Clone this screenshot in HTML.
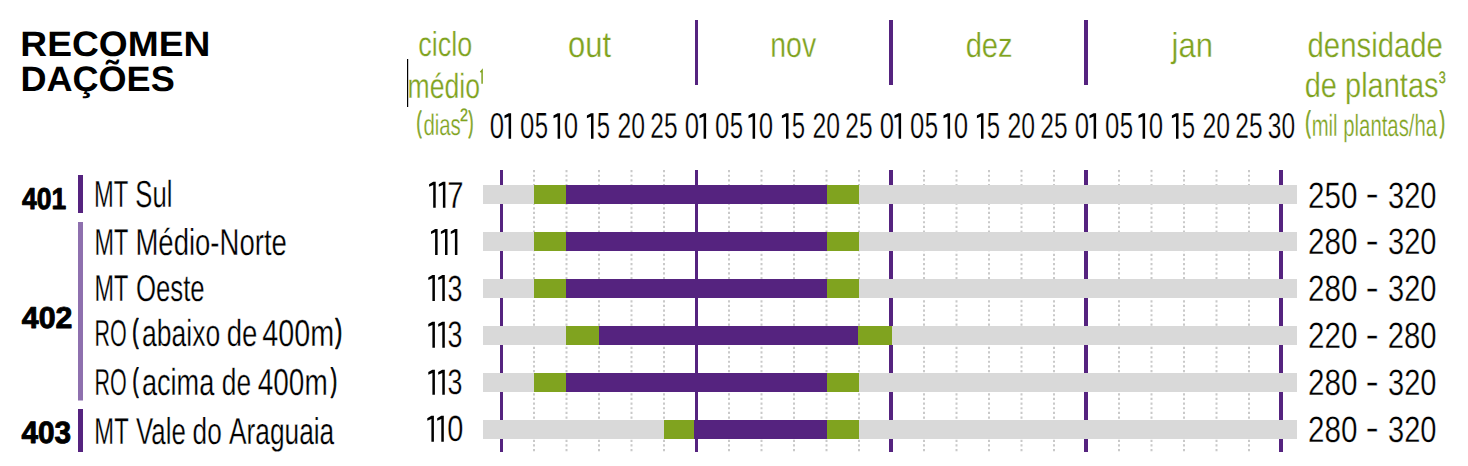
<!DOCTYPE html>
<html><head><meta charset="utf-8"><style>
html,body{margin:0;padding:0;background:#fff;}
svg{display:block;}
text{font-family:"Liberation Sans", sans-serif;text-rendering:geometricPrecision;}
</style></head><body>
<svg width="1468" height="466" viewBox="0 0 1468 466">
<rect x="695" y="20" width="3" height="65" fill="#55237f"/>
<rect x="889" y="20" width="4" height="65" fill="#55237f"/>
<rect x="1084" y="20" width="4" height="65" fill="#55237f"/>
<path d="M480.4 72.2 L482.1 70.2 L482.1 83.7" fill="none" stroke="#80a31f" stroke-width="1.5"/>
<rect x="407" y="59" width="1.2" height="48" fill="#000"/>
<line x1="534.00" y1="170" x2="534.00" y2="452" stroke="#c9c9c9" stroke-width="2" stroke-dasharray="2.2 2.45"/>
<line x1="566.50" y1="170" x2="566.50" y2="452" stroke="#c9c9c9" stroke-width="2" stroke-dasharray="2.2 2.45"/>
<line x1="599.00" y1="170" x2="599.00" y2="452" stroke="#c9c9c9" stroke-width="2" stroke-dasharray="2.2 2.45"/>
<line x1="631.50" y1="170" x2="631.50" y2="452" stroke="#c9c9c9" stroke-width="2" stroke-dasharray="2.2 2.45"/>
<line x1="664.00" y1="170" x2="664.00" y2="452" stroke="#c9c9c9" stroke-width="2" stroke-dasharray="2.2 2.45"/>
<line x1="729.00" y1="170" x2="729.00" y2="452" stroke="#c9c9c9" stroke-width="2" stroke-dasharray="2.2 2.45"/>
<line x1="761.50" y1="170" x2="761.50" y2="452" stroke="#c9c9c9" stroke-width="2" stroke-dasharray="2.2 2.45"/>
<line x1="794.00" y1="170" x2="794.00" y2="452" stroke="#c9c9c9" stroke-width="2" stroke-dasharray="2.2 2.45"/>
<line x1="826.50" y1="170" x2="826.50" y2="452" stroke="#c9c9c9" stroke-width="2" stroke-dasharray="2.2 2.45"/>
<line x1="859.00" y1="170" x2="859.00" y2="452" stroke="#c9c9c9" stroke-width="2" stroke-dasharray="2.2 2.45"/>
<line x1="924.00" y1="170" x2="924.00" y2="452" stroke="#c9c9c9" stroke-width="2" stroke-dasharray="2.2 2.45"/>
<line x1="956.50" y1="170" x2="956.50" y2="452" stroke="#c9c9c9" stroke-width="2" stroke-dasharray="2.2 2.45"/>
<line x1="989.00" y1="170" x2="989.00" y2="452" stroke="#c9c9c9" stroke-width="2" stroke-dasharray="2.2 2.45"/>
<line x1="1021.50" y1="170" x2="1021.50" y2="452" stroke="#c9c9c9" stroke-width="2" stroke-dasharray="2.2 2.45"/>
<line x1="1054.00" y1="170" x2="1054.00" y2="452" stroke="#c9c9c9" stroke-width="2" stroke-dasharray="2.2 2.45"/>
<line x1="1119.00" y1="170" x2="1119.00" y2="452" stroke="#c9c9c9" stroke-width="2" stroke-dasharray="2.2 2.45"/>
<line x1="1151.50" y1="170" x2="1151.50" y2="452" stroke="#c9c9c9" stroke-width="2" stroke-dasharray="2.2 2.45"/>
<line x1="1184.00" y1="170" x2="1184.00" y2="452" stroke="#c9c9c9" stroke-width="2" stroke-dasharray="2.2 2.45"/>
<line x1="1216.50" y1="170" x2="1216.50" y2="452" stroke="#c9c9c9" stroke-width="2" stroke-dasharray="2.2 2.45"/>
<line x1="1249.00" y1="170" x2="1249.00" y2="452" stroke="#c9c9c9" stroke-width="2" stroke-dasharray="2.2 2.45"/>
<rect x="500" y="170" width="3" height="282" fill="#55237f"/>
<rect x="695" y="170" width="3" height="282" fill="#55237f"/>
<rect x="889" y="170" width="4" height="282" fill="#55237f"/>
<rect x="1084" y="170" width="4" height="282" fill="#55237f"/>
<rect x="1279" y="170" width="4" height="282" fill="#55237f"/>
<rect x="483" y="185" width="814" height="19" fill="#d9d9d9"/>
<rect x="534" y="185" width="32" height="19" fill="#80a31f"/>
<rect x="566" y="185" width="261" height="19" fill="#55237f"/>
<rect x="827" y="185" width="32" height="19" fill="#80a31f"/>
<rect x="483" y="232" width="814" height="19" fill="#d9d9d9"/>
<rect x="534" y="232" width="32" height="19" fill="#80a31f"/>
<rect x="566" y="232" width="261" height="19" fill="#55237f"/>
<rect x="827" y="232" width="32" height="19" fill="#80a31f"/>
<rect x="483" y="279" width="814" height="19" fill="#d9d9d9"/>
<rect x="534" y="279" width="32" height="19" fill="#80a31f"/>
<rect x="566" y="279" width="261" height="19" fill="#55237f"/>
<rect x="827" y="279" width="32" height="19" fill="#80a31f"/>
<rect x="483" y="326" width="814" height="19" fill="#d9d9d9"/>
<rect x="566" y="326" width="33" height="19" fill="#80a31f"/>
<rect x="599" y="326" width="259" height="19" fill="#55237f"/>
<rect x="858" y="326" width="34" height="19" fill="#80a31f"/>
<rect x="483" y="373" width="814" height="19" fill="#d9d9d9"/>
<rect x="534" y="373" width="32" height="19" fill="#80a31f"/>
<rect x="566" y="373" width="261" height="19" fill="#55237f"/>
<rect x="827" y="373" width="32" height="19" fill="#80a31f"/>
<rect x="483" y="420" width="814" height="19" fill="#d9d9d9"/>
<rect x="664" y="420" width="30" height="19" fill="#80a31f"/>
<rect x="694" y="420" width="133" height="19" fill="#55237f"/>
<rect x="827" y="420" width="32" height="19" fill="#80a31f"/>
<rect x="78" y="175" width="5" height="38" fill="#55237f"/>
<rect x="78" y="222" width="5" height="178.5" fill="#8e70ae"/>
<rect x="78" y="409" width="5" height="43" fill="#55237f"/>
<text x="20.37" y="56.35" font-size="35.35" font-weight="700" fill="#000000" textLength="189.91" lengthAdjust="spacingAndGlyphs">RECOMEN</text>
<text x="20.44" y="91.15" font-size="35.35" font-weight="700" fill="#000000" textLength="154.25" lengthAdjust="spacingAndGlyphs">DAÇÕES</text>
<text x="418.32" y="56.45" font-size="34.59" font-weight="400" fill="#80a31f" stroke="#fff" stroke-width="0.3" textLength="53.98" lengthAdjust="spacingAndGlyphs">ciclo</text>
<text x="407.50" y="97.55" font-size="34.73" font-weight="400" fill="#80a31f" stroke="#fff" stroke-width="0.3" textLength="72.46" lengthAdjust="spacingAndGlyphs">médio</text>
<text x="416.39" y="131.88" font-size="29.43" font-weight="400" fill="#80a31f" stroke="#80a31f" stroke-width="0.88" stroke-linejoin="round" textLength="5.11" lengthAdjust="spacingAndGlyphs">(</text>
<text x="423.38" y="134.70" font-size="29.73" font-weight="400" fill="#80a31f" stroke="#fff" stroke-width="0.3" textLength="37.42" lengthAdjust="spacingAndGlyphs">dias</text>
<text x="459.93" y="121.32" font-size="18.06" font-weight="400" fill="#80a31f" stroke="#80a31f" stroke-width="0.36" stroke-linejoin="round" textLength="8.00" lengthAdjust="spacingAndGlyphs">2</text>
<text x="468.45" y="131.88" font-size="29.43" font-weight="400" fill="#80a31f" stroke="#80a31f" stroke-width="0.88" stroke-linejoin="round" textLength="4.89" lengthAdjust="spacingAndGlyphs">)</text>
<text x="567.96" y="56.73" font-size="36.52" font-weight="400" fill="#80a31f" stroke="#fff" stroke-width="0.3" textLength="43.04" lengthAdjust="spacingAndGlyphs">out</text>
<text x="770.29" y="56.54" font-size="35.64" font-weight="400" fill="#80a31f" stroke="#fff" stroke-width="0.3" textLength="45.87" lengthAdjust="spacingAndGlyphs">nov</text>
<text x="965.63" y="56.55" font-size="34.59" font-weight="400" fill="#80a31f" stroke="#fff" stroke-width="0.3" textLength="47.11" lengthAdjust="spacingAndGlyphs">dez</text>
<text x="1171.53" y="56.55" font-size="34.59" font-weight="400" fill="#80a31f" stroke="#fff" stroke-width="0.3" textLength="41.47" lengthAdjust="spacingAndGlyphs">jan</text>
<text x="1307.53" y="56.55" font-size="34.73" font-weight="400" fill="#80a31f" stroke="#fff" stroke-width="0.3" textLength="135.41" lengthAdjust="spacingAndGlyphs">densidade</text>
<text x="1304.74" y="97.35" font-size="34.86" font-weight="400" fill="#80a31f" stroke="#fff" stroke-width="0.3" textLength="133.77" lengthAdjust="spacingAndGlyphs">de plantas</text>
<text x="1438.82" y="82.87" font-size="16.44" font-weight="400" fill="#80a31f" stroke="#80a31f" stroke-width="0.33" stroke-linejoin="round" textLength="7.01" lengthAdjust="spacingAndGlyphs">3</text>
<text x="1305.15" y="131.97" font-size="29.69" font-weight="400" fill="#80a31f" stroke="#80a31f" stroke-width="0.89" stroke-linejoin="round" textLength="5.44" lengthAdjust="spacingAndGlyphs">(</text>
<text x="1311.68" y="135.60" font-size="30.55" font-weight="400" fill="#80a31f" stroke="#fff" stroke-width="0.3" textLength="125.42" lengthAdjust="spacingAndGlyphs">mil plantas/ha</text>
<text x="1439.86" y="131.97" font-size="29.69" font-weight="400" fill="#80a31f" stroke="#80a31f" stroke-width="0.89" stroke-linejoin="round" textLength="5.22" lengthAdjust="spacingAndGlyphs">)</text>
<text x="489.87" y="138.34" font-size="35.92" font-weight="400" fill="#000000" stroke="#fff" stroke-width="0.3" textLength="14.37" lengthAdjust="spacingAndGlyphs">0</text>
<text x="519.97" y="138.34" font-size="35.92" font-weight="400" fill="#000000" stroke="#fff" stroke-width="0.3" textLength="14.37" lengthAdjust="spacingAndGlyphs">0</text>
<text x="534.64" y="138.34" font-size="36.43" font-weight="400" fill="#000000" stroke="#fff" stroke-width="0.3" textLength="13.33" lengthAdjust="spacingAndGlyphs">5</text>
<text x="563.77" y="138.34" font-size="35.92" font-weight="400" fill="#000000" stroke="#fff" stroke-width="0.3" textLength="14.37" lengthAdjust="spacingAndGlyphs">0</text>
<text x="596.64" y="138.34" font-size="36.43" font-weight="400" fill="#000000" stroke="#fff" stroke-width="0.3" textLength="13.33" lengthAdjust="spacingAndGlyphs">5</text>
<text x="617.51" y="138.34" font-size="35.92" font-weight="400" fill="#000000" stroke="#fff" stroke-width="0.3" textLength="27.54" lengthAdjust="spacingAndGlyphs">20</text>
<text x="650.27" y="138.34" font-size="35.92" font-weight="400" fill="#000000" stroke="#fff" stroke-width="0.3" textLength="27.26" lengthAdjust="spacingAndGlyphs">25</text>
<text x="684.87" y="138.34" font-size="35.92" font-weight="400" fill="#000000" stroke="#fff" stroke-width="0.3" textLength="14.37" lengthAdjust="spacingAndGlyphs">0</text>
<text x="714.97" y="138.34" font-size="35.92" font-weight="400" fill="#000000" stroke="#fff" stroke-width="0.3" textLength="14.37" lengthAdjust="spacingAndGlyphs">0</text>
<text x="729.64" y="138.34" font-size="36.43" font-weight="400" fill="#000000" stroke="#fff" stroke-width="0.3" textLength="13.33" lengthAdjust="spacingAndGlyphs">5</text>
<text x="758.77" y="138.34" font-size="35.92" font-weight="400" fill="#000000" stroke="#fff" stroke-width="0.3" textLength="14.37" lengthAdjust="spacingAndGlyphs">0</text>
<text x="791.64" y="138.34" font-size="36.43" font-weight="400" fill="#000000" stroke="#fff" stroke-width="0.3" textLength="13.33" lengthAdjust="spacingAndGlyphs">5</text>
<text x="812.51" y="138.34" font-size="35.92" font-weight="400" fill="#000000" stroke="#fff" stroke-width="0.3" textLength="27.54" lengthAdjust="spacingAndGlyphs">20</text>
<text x="845.27" y="138.34" font-size="35.92" font-weight="400" fill="#000000" stroke="#fff" stroke-width="0.3" textLength="27.26" lengthAdjust="spacingAndGlyphs">25</text>
<text x="879.87" y="138.34" font-size="35.92" font-weight="400" fill="#000000" stroke="#fff" stroke-width="0.3" textLength="14.37" lengthAdjust="spacingAndGlyphs">0</text>
<text x="909.97" y="138.34" font-size="35.92" font-weight="400" fill="#000000" stroke="#fff" stroke-width="0.3" textLength="14.37" lengthAdjust="spacingAndGlyphs">0</text>
<text x="924.64" y="138.34" font-size="36.43" font-weight="400" fill="#000000" stroke="#fff" stroke-width="0.3" textLength="13.33" lengthAdjust="spacingAndGlyphs">5</text>
<text x="953.77" y="138.34" font-size="35.92" font-weight="400" fill="#000000" stroke="#fff" stroke-width="0.3" textLength="14.37" lengthAdjust="spacingAndGlyphs">0</text>
<text x="986.64" y="138.34" font-size="36.43" font-weight="400" fill="#000000" stroke="#fff" stroke-width="0.3" textLength="13.33" lengthAdjust="spacingAndGlyphs">5</text>
<text x="1007.51" y="138.34" font-size="35.92" font-weight="400" fill="#000000" stroke="#fff" stroke-width="0.3" textLength="27.54" lengthAdjust="spacingAndGlyphs">20</text>
<text x="1040.27" y="138.34" font-size="35.92" font-weight="400" fill="#000000" stroke="#fff" stroke-width="0.3" textLength="27.26" lengthAdjust="spacingAndGlyphs">25</text>
<text x="1074.87" y="138.34" font-size="35.92" font-weight="400" fill="#000000" stroke="#fff" stroke-width="0.3" textLength="14.37" lengthAdjust="spacingAndGlyphs">0</text>
<text x="1104.97" y="138.34" font-size="35.92" font-weight="400" fill="#000000" stroke="#fff" stroke-width="0.3" textLength="14.37" lengthAdjust="spacingAndGlyphs">0</text>
<text x="1119.64" y="138.34" font-size="36.43" font-weight="400" fill="#000000" stroke="#fff" stroke-width="0.3" textLength="13.33" lengthAdjust="spacingAndGlyphs">5</text>
<text x="1148.77" y="138.34" font-size="35.92" font-weight="400" fill="#000000" stroke="#fff" stroke-width="0.3" textLength="14.37" lengthAdjust="spacingAndGlyphs">0</text>
<text x="1181.64" y="138.34" font-size="36.43" font-weight="400" fill="#000000" stroke="#fff" stroke-width="0.3" textLength="13.33" lengthAdjust="spacingAndGlyphs">5</text>
<text x="1202.51" y="138.34" font-size="35.92" font-weight="400" fill="#000000" stroke="#fff" stroke-width="0.3" textLength="27.54" lengthAdjust="spacingAndGlyphs">20</text>
<text x="1235.27" y="138.34" font-size="35.92" font-weight="400" fill="#000000" stroke="#fff" stroke-width="0.3" textLength="27.26" lengthAdjust="spacingAndGlyphs">25</text>
<text x="1267.77" y="138.34" font-size="35.92" font-weight="400" fill="#000000" stroke="#fff" stroke-width="0.3" textLength="27.27" lengthAdjust="spacingAndGlyphs">30</text>
<text x="94.10" y="206.80" font-size="37.68" font-weight="400" fill="#000000" stroke="#fff" stroke-width="0.3" textLength="34.27" lengthAdjust="spacingAndGlyphs">MT</text>
<text x="135.37" y="206.80" font-size="37.68" font-weight="400" fill="#000000" stroke="#fff" stroke-width="0.3" textLength="37.10" lengthAdjust="spacingAndGlyphs">Sul</text>
<text x="94.53" y="254.80" font-size="37.39" font-weight="400" fill="#000000" stroke="#fff" stroke-width="0.3" textLength="33.83" lengthAdjust="spacingAndGlyphs">MT</text>
<text x="135.40" y="254.80" font-size="37.39" font-weight="400" fill="#000000" stroke="#fff" stroke-width="0.3" textLength="151.46" lengthAdjust="spacingAndGlyphs">Médio-Norte</text>
<text x="94.53" y="300.80" font-size="37.39" font-weight="400" fill="#000000" stroke="#fff" stroke-width="0.3" textLength="33.83" lengthAdjust="spacingAndGlyphs">MT</text>
<text x="135.97" y="300.80" font-size="37.39" font-weight="400" fill="#000000" stroke="#fff" stroke-width="0.3" textLength="68.71" lengthAdjust="spacingAndGlyphs">Oeste</text>
<text x="94.48" y="345.90" font-size="37.54" font-weight="400" fill="#000000" stroke="#fff" stroke-width="0.3" textLength="32.28" lengthAdjust="spacingAndGlyphs">RO</text>
<text x="142.04" y="345.90" font-size="37.54" font-weight="400" fill="#000000" stroke="#fff" stroke-width="0.3" textLength="78.24" lengthAdjust="spacingAndGlyphs">abaixo</text>
<text x="226.70" y="345.90" font-size="37.54" font-weight="400" fill="#000000" stroke="#fff" stroke-width="0.3" textLength="30.67" lengthAdjust="spacingAndGlyphs">de</text>
<text x="262.22" y="345.90" font-size="37.54" font-weight="400" fill="#000000" stroke="#fff" stroke-width="0.3" textLength="71.95" lengthAdjust="spacingAndGlyphs">400m</text>
<text x="132.24" y="342.34" font-size="32.89" font-weight="400" fill="#000000" stroke="#000000" stroke-width="0.99" stroke-linejoin="round" textLength="6.33" lengthAdjust="spacingAndGlyphs">(</text>
<text x="335.21" y="342.34" font-size="32.89" font-weight="400" fill="#000000" stroke="#000000" stroke-width="0.99" stroke-linejoin="round" textLength="6.88" lengthAdjust="spacingAndGlyphs">)</text>
<text x="94.48" y="394.80" font-size="37.54" font-weight="400" fill="#000000" stroke="#fff" stroke-width="0.3" textLength="32.28" lengthAdjust="spacingAndGlyphs">RO</text>
<text x="141.91" y="394.80" font-size="37.54" font-weight="400" fill="#000000" stroke="#fff" stroke-width="0.3" textLength="72.42" lengthAdjust="spacingAndGlyphs">acima</text>
<text x="221.75" y="394.80" font-size="37.54" font-weight="400" fill="#000000" stroke="#fff" stroke-width="0.3" textLength="29.27" lengthAdjust="spacingAndGlyphs">de</text>
<text x="257.74" y="394.80" font-size="37.54" font-weight="400" fill="#000000" stroke="#fff" stroke-width="0.3" textLength="69.98" lengthAdjust="spacingAndGlyphs">400m</text>
<text x="132.47" y="391.05" font-size="32.37" font-weight="400" fill="#000000" stroke="#000000" stroke-width="0.97" stroke-linejoin="round" textLength="6.11" lengthAdjust="spacingAndGlyphs">(</text>
<text x="330.69" y="391.05" font-size="32.37" font-weight="400" fill="#000000" stroke="#000000" stroke-width="0.97" stroke-linejoin="round" textLength="6.33" lengthAdjust="spacingAndGlyphs">)</text>
<text x="94.30" y="443.80" font-size="37.39" font-weight="400" fill="#000000" stroke="#fff" stroke-width="0.3" textLength="34.37" lengthAdjust="spacingAndGlyphs">MT</text>
<text x="136.00" y="443.80" font-size="37.39" font-weight="400" fill="#000000" stroke="#fff" stroke-width="0.3" textLength="49.76" lengthAdjust="spacingAndGlyphs">Vale</text>
<text x="192.55" y="443.80" font-size="37.39" font-weight="400" fill="#000000" stroke="#fff" stroke-width="0.3" textLength="29.16" lengthAdjust="spacingAndGlyphs">do</text>
<text x="229.00" y="443.80" font-size="37.39" font-weight="400" fill="#000000" stroke="#fff" stroke-width="0.3" textLength="105.22" lengthAdjust="spacingAndGlyphs">Araguaia</text>
<text x="22.00" y="208.70" font-size="30.13" font-weight="700" fill="#000000" stroke="#000000" stroke-width="0.90" stroke-linejoin="round" textLength="44.23" lengthAdjust="spacingAndGlyphs">401</text>
<text x="21.80" y="327.79" font-size="30.27" font-weight="700" fill="#000000" stroke="#000000" stroke-width="0.91" stroke-linejoin="round" textLength="50.56" lengthAdjust="spacingAndGlyphs">402</text>
<text x="21.40" y="443.27" font-size="30.93" font-weight="700" fill="#000000" stroke="#000000" stroke-width="0.93" stroke-linejoin="round" textLength="49.65" lengthAdjust="spacingAndGlyphs">403</text>
<text x="447.23" y="207.70" font-size="37.54" font-weight="400" fill="#000000" stroke="#fff" stroke-width="0.3" textLength="16.32" lengthAdjust="spacingAndGlyphs">7</text>
<text x="447.62" y="300.54" font-size="36.48" font-weight="400" fill="#000000" stroke="#fff" stroke-width="0.3" textLength="14.95" lengthAdjust="spacingAndGlyphs">3</text>
<text x="447.62" y="347.43" font-size="36.76" font-weight="400" fill="#000000" stroke="#fff" stroke-width="0.3" textLength="14.95" lengthAdjust="spacingAndGlyphs">3</text>
<text x="447.62" y="394.45" font-size="35.35" font-weight="400" fill="#000000" stroke="#fff" stroke-width="0.3" textLength="14.95" lengthAdjust="spacingAndGlyphs">3</text>
<text x="447.14" y="441.34" font-size="36.48" font-weight="400" fill="#000000" stroke="#fff" stroke-width="0.3" textLength="16.11" lengthAdjust="spacingAndGlyphs">0</text>
<text x="1308.02" y="207.53" font-size="36.62" font-weight="400" fill="#000000" stroke="#fff" stroke-width="0.3" textLength="49.42" lengthAdjust="spacingAndGlyphs">250</text>
<text x="1388.04" y="207.53" font-size="36.62" font-weight="400" fill="#000000" stroke="#fff" stroke-width="0.3" textLength="48.48" lengthAdjust="spacingAndGlyphs">320</text>
<text x="1365.60" y="205.43" font-size="33.33" font-weight="400" fill="#000000" stroke="#fff" stroke-width="0.3" textLength="13.33" lengthAdjust="spacingAndGlyphs">-</text>
<text x="1308.02" y="254.33" font-size="36.62" font-weight="400" fill="#000000" stroke="#fff" stroke-width="0.3" textLength="49.42" lengthAdjust="spacingAndGlyphs">280</text>
<text x="1388.04" y="254.33" font-size="36.62" font-weight="400" fill="#000000" stroke="#fff" stroke-width="0.3" textLength="48.48" lengthAdjust="spacingAndGlyphs">320</text>
<text x="1365.60" y="252.23" font-size="33.33" font-weight="400" fill="#000000" stroke="#fff" stroke-width="0.3" textLength="13.33" lengthAdjust="spacingAndGlyphs">-</text>
<text x="1308.02" y="301.13" font-size="36.62" font-weight="400" fill="#000000" stroke="#fff" stroke-width="0.3" textLength="49.42" lengthAdjust="spacingAndGlyphs">280</text>
<text x="1388.04" y="301.13" font-size="36.62" font-weight="400" fill="#000000" stroke="#fff" stroke-width="0.3" textLength="48.48" lengthAdjust="spacingAndGlyphs">320</text>
<text x="1365.60" y="299.03" font-size="33.33" font-weight="400" fill="#000000" stroke="#fff" stroke-width="0.3" textLength="13.33" lengthAdjust="spacingAndGlyphs">-</text>
<text x="1308.02" y="347.93" font-size="36.62" font-weight="400" fill="#000000" stroke="#fff" stroke-width="0.3" textLength="49.42" lengthAdjust="spacingAndGlyphs">220</text>
<text x="1387.74" y="347.93" font-size="36.62" font-weight="400" fill="#000000" stroke="#fff" stroke-width="0.3" textLength="48.79" lengthAdjust="spacingAndGlyphs">280</text>
<text x="1365.60" y="345.83" font-size="33.33" font-weight="400" fill="#000000" stroke="#fff" stroke-width="0.3" textLength="13.33" lengthAdjust="spacingAndGlyphs">-</text>
<text x="1308.02" y="394.73" font-size="36.62" font-weight="400" fill="#000000" stroke="#fff" stroke-width="0.3" textLength="49.42" lengthAdjust="spacingAndGlyphs">280</text>
<text x="1388.04" y="394.73" font-size="36.62" font-weight="400" fill="#000000" stroke="#fff" stroke-width="0.3" textLength="48.48" lengthAdjust="spacingAndGlyphs">320</text>
<text x="1365.60" y="392.63" font-size="33.33" font-weight="400" fill="#000000" stroke="#fff" stroke-width="0.3" textLength="13.33" lengthAdjust="spacingAndGlyphs">-</text>
<text x="1308.02" y="441.53" font-size="36.62" font-weight="400" fill="#000000" stroke="#fff" stroke-width="0.3" textLength="49.42" lengthAdjust="spacingAndGlyphs">280</text>
<text x="1388.04" y="441.53" font-size="36.62" font-weight="400" fill="#000000" stroke="#fff" stroke-width="0.3" textLength="48.48" lengthAdjust="spacingAndGlyphs">320</text>
<text x="1365.60" y="439.43" font-size="33.33" font-weight="400" fill="#000000" stroke="#fff" stroke-width="0.3" textLength="13.33" lengthAdjust="spacingAndGlyphs">-</text>
<path d="M508.60 113.20 L511.10 113.20 L511.10 138.70 L508.60 138.70 L508.60 116.50 L504.50 118.20 L504.50 115.60 Z" fill="#000000"/>
<path d="M557.60 113.20 L560.10 113.20 L560.10 138.70 L557.60 138.70 L557.60 116.50 L553.50 118.20 L553.50 115.60 Z" fill="#000000"/>
<path d="M591.00 113.20 L593.50 113.20 L593.50 138.70 L591.00 138.70 L591.00 116.50 L586.90 118.20 L586.90 115.60 Z" fill="#000000"/>
<path d="M703.60 113.20 L706.10 113.20 L706.10 138.70 L703.60 138.70 L703.60 116.50 L699.50 118.20 L699.50 115.60 Z" fill="#000000"/>
<path d="M752.60 113.20 L755.10 113.20 L755.10 138.70 L752.60 138.70 L752.60 116.50 L748.50 118.20 L748.50 115.60 Z" fill="#000000"/>
<path d="M786.00 113.20 L788.50 113.20 L788.50 138.70 L786.00 138.70 L786.00 116.50 L781.90 118.20 L781.90 115.60 Z" fill="#000000"/>
<path d="M898.60 113.20 L901.10 113.20 L901.10 138.70 L898.60 138.70 L898.60 116.50 L894.50 118.20 L894.50 115.60 Z" fill="#000000"/>
<path d="M947.60 113.20 L950.10 113.20 L950.10 138.70 L947.60 138.70 L947.60 116.50 L943.50 118.20 L943.50 115.60 Z" fill="#000000"/>
<path d="M981.00 113.20 L983.50 113.20 L983.50 138.70 L981.00 138.70 L981.00 116.50 L976.90 118.20 L976.90 115.60 Z" fill="#000000"/>
<path d="M1093.60 113.20 L1096.10 113.20 L1096.10 138.70 L1093.60 138.70 L1093.60 116.50 L1089.50 118.20 L1089.50 115.60 Z" fill="#000000"/>
<path d="M1142.60 113.20 L1145.10 113.20 L1145.10 138.70 L1142.60 138.70 L1142.60 116.50 L1138.50 118.20 L1138.50 115.60 Z" fill="#000000"/>
<path d="M1176.00 113.20 L1178.50 113.20 L1178.50 138.70 L1176.00 138.70 L1176.00 116.50 L1171.90 118.20 L1171.90 115.60 Z" fill="#000000"/>
<path d="M433.20 181.80 L435.70 181.80 L435.70 207.70 L433.20 207.70 L433.20 185.10 L429.10 186.80 L429.10 184.20 Z" fill="#000000"/>
<path d="M442.90 181.80 L445.40 181.80 L445.40 207.70 L442.90 207.70 L442.90 185.10 L438.80 186.80 L438.80 184.20 Z" fill="#000000"/>
<path d="M435.10 229.00 L437.60 229.00 L437.60 254.90 L435.10 254.90 L435.10 232.30 L431.00 234.00 L431.00 231.40 Z" fill="#000000"/>
<path d="M445.00 229.00 L447.50 229.00 L447.50 254.90 L445.00 254.90 L445.00 232.30 L440.90 234.00 L440.90 231.40 Z" fill="#000000"/>
<path d="M454.90 229.00 L457.40 229.00 L457.40 254.90 L454.90 254.90 L454.90 232.30 L450.80 234.00 L450.80 231.40 Z" fill="#000000"/>
<path d="M432.40 275.00 L434.90 275.00 L434.90 300.90 L432.40 300.90 L432.40 278.30 L428.30 280.00 L428.30 277.40 Z" fill="#000000"/>
<path d="M442.30 275.00 L444.80 275.00 L444.80 300.90 L442.30 300.90 L442.30 278.30 L438.20 280.00 L438.20 277.40 Z" fill="#000000"/>
<path d="M432.40 321.70 L434.90 321.70 L434.90 347.80 L432.40 347.80 L432.40 325.00 L428.30 326.70 L428.30 324.10 Z" fill="#000000"/>
<path d="M442.30 321.70 L444.80 321.70 L444.80 347.80 L442.30 347.80 L442.30 325.00 L438.20 326.70 L438.20 324.10 Z" fill="#000000"/>
<path d="M432.40 369.70 L434.90 369.70 L434.90 394.80 L432.40 394.80 L432.40 373.00 L428.30 374.70 L428.30 372.10 Z" fill="#000000"/>
<path d="M442.30 369.70 L444.80 369.70 L444.80 394.80 L442.30 394.80 L442.30 373.00 L438.20 374.70 L438.20 372.10 Z" fill="#000000"/>
<path d="M431.40 415.80 L433.90 415.80 L433.90 441.70 L431.40 441.70 L431.40 419.10 L427.30 420.80 L427.30 418.20 Z" fill="#000000"/>
<path d="M441.30 415.80 L443.80 415.80 L443.80 441.70 L441.30 441.70 L441.30 419.10 L437.20 420.80 L437.20 418.20 Z" fill="#000000"/>
</svg>
</body></html>
